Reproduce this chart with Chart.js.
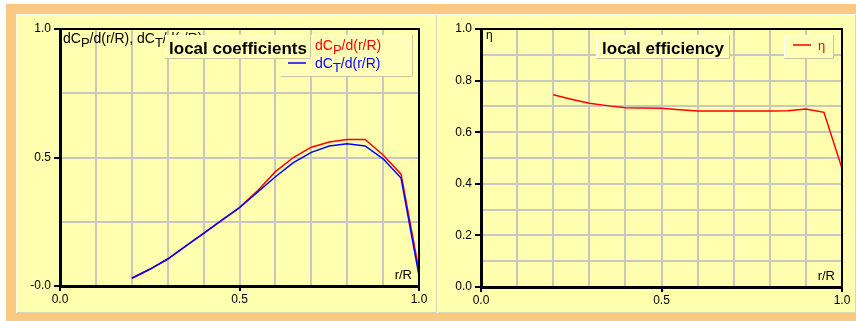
<!DOCTYPE html>
<html><head><meta charset="utf-8">
<script src="https://cdn.jsdelivr.net/npm/chart.js@4.4.1/dist/chart.umd.min.js"></script>
<style>
html,body{margin:0;padding:0;background:#fff;width:856px;height:321px;overflow:hidden;}
#frame{position:absolute;left:6px;top:4px;width:850px;height:317px;background:#F9C882;}
.panel{position:absolute;top:14px;height:299px;background:#FFFFB0;box-shadow:inset 1px 1px 0 #FFFFF0, inset -1px -1px 0 #D8D8B0;}
#p1{left:16px;width:421px;}
#p2{left:437px;width:419px;}
canvas{position:absolute;left:0;top:0;}
</style>
</head>
<body>
<div id="frame"></div>
<div class="panel" id="p1"><canvas id="c1" width="420" height="298"></canvas></div>
<div class="panel" id="p2"><canvas id="c2" width="419" height="298" style="left:1px"></canvas></div>
<script>
// ---- data ----
const rR   = [0.20,0.25,0.30,0.35,0.40,0.45,0.50,0.55,0.60,0.65,0.70,0.75,0.80,0.85,0.90,0.95,1.00];
const dCp  = [0.030,0.065,0.105,0.155,0.205,0.255,0.305,0.370,0.445,0.500,0.540,0.560,0.570,0.570,0.510,0.435,0.060];
const dCt  = [0.030,0.065,0.105,0.155,0.205,0.255,0.305,0.365,0.425,0.480,0.520,0.545,0.553,0.545,0.495,0.420,0.040];
const eta  = [0.745,0.728,0.712,0.703,0.695,0.694,0.693,0.687,0.682,0.682,0.682,0.682,0.682,0.683,0.690,0.677,0.460];

const xLabelValues = [0, 0.5, 1];
const xLabelTexts  = ['0.0','0.5','1.0'];
const leftYLabelValues = [0, 0.5, 1];
const leftYLabelTexts  = ['-0.0','0.5','1.0'];
const rightYLabelValues = [0, 0.2, 0.4, 0.6, 0.8, 1.0];
const rightYLabelTexts  = ['0.0','0.2','0.4','0.6','0.8','1.0'];

const leftTitle = 'local coefficients';
const rightTitle = 'local efficiency';
const xAxisTitle = 'r/R';
const seriesCp = [{t:'dC'},{t:'P',sub:true},{t:'/d(r/R)'}];
const seriesCt = [{t:'dC'},{t:'T',sub:true},{t:'/d(r/R)'}];
const leftYAxisTitle = [{t:'dC'},{t:'P',sub:true},{t:'/d(r/R), dC'},{t:'T',sub:true},{t:'/d(r/R)'}];
const rightYAxisTitle = [{t:'η'}];
const seriesEta = [{t:'η'}];

// ---- helpers ----
const FONT = '"Liberation Sans", Arial, sans-serif';
Chart.defaults.font.family = FONT;
Chart.defaults.font.size = 12;
Chart.defaults.color = '#000';

function findLabel(vals, texts, v){
  const i = vals.findIndex(t => Math.abs(t - v) < 1e-6);
  return i >= 0 ? texts[i] : '';
}
function richText(ctx, parts, x, y, color, size){
  let cx = x;
  ctx.textAlign = 'left'; ctx.textBaseline = 'alphabetic';
  for (const p of parts){
    ctx.font = (p.sub ? size - 1 : size) + 'px ' + FONT;
    ctx.fillStyle = color;
    ctx.fillText(p.t, cx, y + (p.sub ? 4 : 0));
    cx += ctx.measureText(p.t).width;
  }
  return cx;
}
function bevelBox(ctx, x, y, w, h){
  ctx.fillStyle = '#FFFFB8';
  ctx.fillRect(x, y, w, h);
  ctx.lineWidth = 1;
  ctx.strokeStyle = '#FFFFFF';
  ctx.beginPath(); ctx.moveTo(x+0.5, y+h); ctx.lineTo(x+0.5, y+0.5); ctx.lineTo(x+w, y+0.5); ctx.stroke();
  ctx.strokeStyle = '#C8C8A0';
  ctx.beginPath(); ctx.moveTo(x+w-0.5, y); ctx.lineTo(x+w-0.5, y+h-0.5); ctx.lineTo(x, y+h-0.5); ctx.stroke();
}
function pts(xs, ys){ return xs.map((x,i)=>({x:x, y:ys[i]})); }

function makeScales(yStep, yVals, yTexts, xH, yW){
  return {
    x: {
      type:'linear', min:0, max:1,
      afterFit: s => { s.height = xH; },
      ticks:{ stepSize:0.1, autoSkip:false, maxRotation:0, padding:1, color:'#000',
              font:{size:12}, callback: v => findLabel(xLabelValues, xLabelTexts, v) },
      grid:{ color: c => (c.tick && (c.tick.value===0)) ? 'rgba(0,0,0,0)' : '#C8C8C0',
             lineWidth: 2, tickLength:5, tickWidth:2,
             tickColor: c => findLabel(xLabelValues, xLabelTexts, c.tick.value) ? '#000' : 'rgba(0,0,0,0)' },
      border:{ display:true, color:'#000', width:3 }
    },
    y: {
      type:'linear', min:0, max:1,
      afterFit: s => { s.width = yW; },
      ticks:{ stepSize:yStep, autoSkip:false, padding:3, color:'#000',
              font:{size:12}, callback: v => findLabel(yVals, yTexts, v) },
      grid:{ color: c => (c.tick && (c.tick.value===0)) ? 'rgba(0,0,0,0)' : '#C8C8C0',
             lineWidth: 2, tickLength:6, tickWidth:2,
             tickColor: c => findLabel(yVals, yTexts, c.tick.value) ? '#000' : 'rgba(0,0,0,0)' },
      border:{ display:true, color:'#000', width:3 }
    }
  };
}

function frameAndXTitle(ctx, ca){
  ctx.save();
  ctx.strokeStyle = '#000'; ctx.lineWidth = 2;
  ctx.beginPath();
  ctx.moveTo(ca.left, ca.top); ctx.lineTo(ca.right, ca.top); ctx.lineTo(ca.right, ca.bottom);
  ctx.stroke();
  ctx.font = '13px ' + FONT; ctx.fillStyle = '#000';
  ctx.textAlign = 'right'; ctx.textBaseline = 'alphabetic';
  ctx.fillText(xAxisTitle, ca.right - 7, ca.bottom - 7);
  ctx.restore();
}

const leftOverlay = {
  id:'leftOverlay',
  afterDraw(chart){
    const ctx = chart.ctx, ca = chart.chartArea;
    ctx.save();
    frameAndXTitle(ctx, ca);
    richText(ctx, leftYAxisTitle, ca.left + 3, ca.top + 14, '#000', 14);
    // legend box
    const lx = ca.right - 138, ly = ca.top + 6;
    bevelBox(ctx, lx, ly, 132, 42);
    ctx.lineWidth = 1.5;
    ctx.strokeStyle = '#FF0000';
    ctx.beginPath(); ctx.moveTo(lx+7, ly+10); ctx.lineTo(lx+25, ly+10); ctx.stroke();
    richText(ctx, seriesCp, lx + 34, ly + 15, '#FF0000', 14);
    ctx.strokeStyle = '#0000FF';
    ctx.beginPath(); ctx.moveTo(lx+7, ly+28); ctx.lineTo(lx+25, ly+28); ctx.stroke();
    richText(ctx, seriesCt, lx + 34, ly + 33, '#0000FF', 14);
    // title box
    const tx = ca.left + 105, ty = ca.top + 6;
    bevelBox(ctx, tx, ty, 146, 24);
    ctx.font = 'bold 17px ' + FONT; ctx.fillStyle = '#000'; ctx.textAlign='center';
    ctx.fillText(leftTitle, tx + 73, ty + 19);
    ctx.restore();
  }
};
const rightOverlay = {
  id:'rightOverlay',
  afterDraw(chart){
    const ctx = chart.ctx, ca = chart.chartArea;
    ctx.save();
    frameAndXTitle(ctx, ca);
    richText(ctx, rightYAxisTitle, ca.left + 5, ca.top + 10, '#000', 12);
    const lx = ca.right - 58, ly = ca.top + 6;
    bevelBox(ctx, lx, ly, 50, 24);
    ctx.lineWidth = 1.5; ctx.strokeStyle = '#FF0000';
    ctx.beginPath(); ctx.moveTo(lx+9, ly+10); ctx.lineTo(lx+27, ly+10); ctx.stroke();
    richText(ctx, seriesEta, lx + 34, ly + 15, '#FF0000', 13);
    const tx = ca.left + 115, ty = ca.top + 6;
    bevelBox(ctx, tx, ty, 134, 24);
    ctx.font = 'bold 17px ' + FONT; ctx.fillStyle = '#000'; ctx.textAlign='center';
    ctx.fillText(rightTitle, tx + 67, ty + 19);
    ctx.restore();
  }
};

const common = {
  responsive:false, animation:false, devicePixelRatio:1,
  plugins:{ legend:{display:false}, tooltip:{enabled:false} },
  elements:{ point:{radius:0}, line:{tension:0, borderWidth:1.5} }
};

new Chart(document.getElementById('c1'), {
  type:'line',
  data:{ datasets:[
    { label:'dCp/d(r/R)', data: pts(rR, dCp), borderColor:'#FF0000', order:1, fill:false },
    { label:'dCT/d(r/R)', data: pts(rR, dCt), borderColor:'#0000FF', order:0, fill:false }
  ]},
  options: Object.assign({}, common, {
    layout:{ padding:{ left:0, top:15, right:17, bottom:0 } },
    scales: makeScales(0.25, leftYLabelValues, leftYLabelTexts, 26, 44)
  }),
  plugins:[leftOverlay]
});

new Chart(document.getElementById('c2'), {
  type:'line',
  data:{ datasets:[
    { label:'η', data: pts(rR, eta), borderColor:'#FF0000', fill:false }
  ]},
  options: Object.assign({}, common, {
    layout:{ padding:{ left:0, top:15, right:15, bottom:0 } },
    scales: makeScales(0.1, rightYLabelValues, rightYLabelTexts, 25, 43)
  }),
  plugins:[rightOverlay]
});
</script>
</body></html>
